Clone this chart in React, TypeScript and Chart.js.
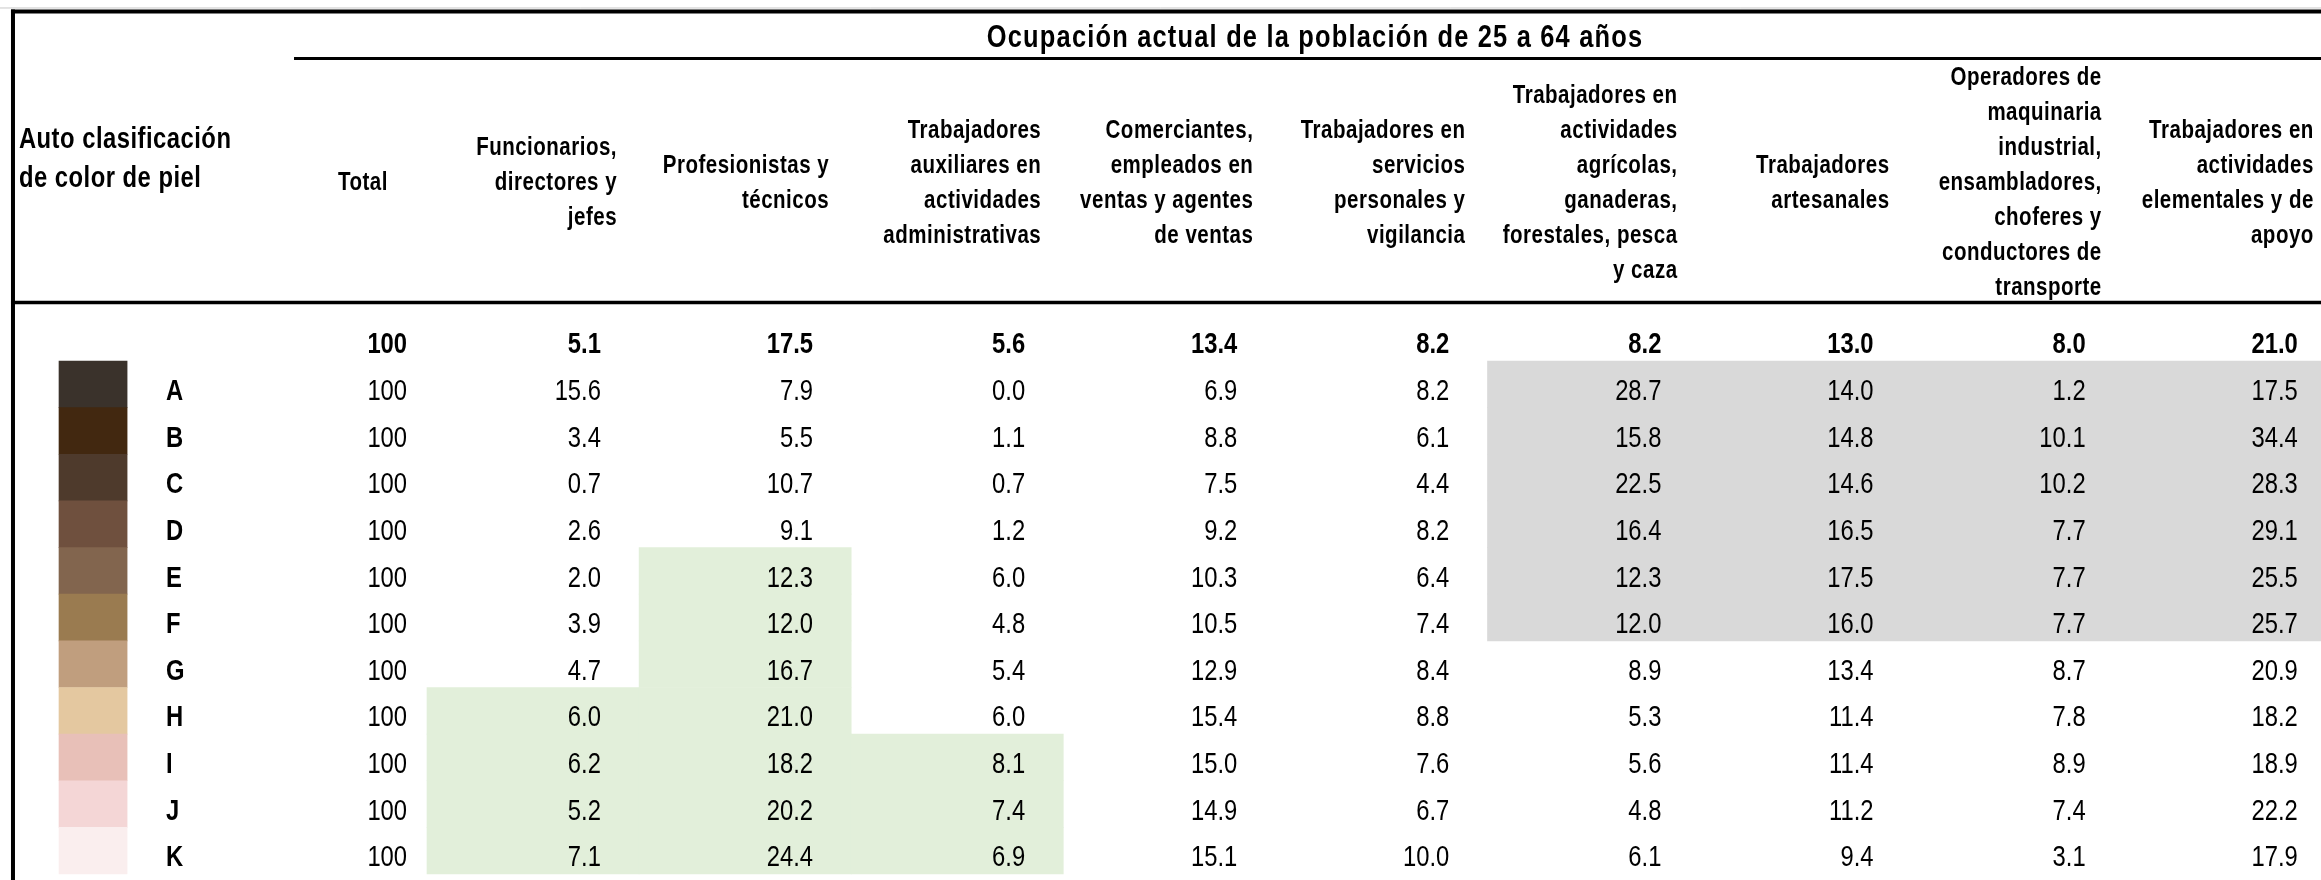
import React, { useEffect, useRef } from "react";
import { Chart, registerables } from "chart.js";
Chart.register(...registerables);

// ---------------- data ----------------
const tableTitle = "Ocupación actual de la población de 25 a 64 años";
const rowHeaderLines = ["Auto clasificación", "de color de piel"];
const totalHeader = "Total";
const categories = ["A", "B", "C", "D", "E", "F", "G", "H", "I", "J", "K"];
const skinColors = [
  "#3a322b", "#422810", "#4e3a2c", "#6f503e", "#82654e", "#9a7b50",
  "#c09e7e", "#e4c8a0", "#e8c0b8", "#f4d6d6", "#faeeee",
];
const occupationHeaders = [
  ["Funcionarios,", "directores y", "jefes"],
  ["Profesionistas y", "técnicos"],
  ["Trabajadores", "auxiliares en", "actividades", "administrativas"],
  ["Comerciantes,", "empleados en", "ventas y agentes", "de ventas"],
  ["Trabajadores en", "servicios", "personales y", "vigilancia"],
  ["Trabajadores en", "actividades", "agrícolas,", "ganaderas,", "forestales, pesca", "y caza"],
  ["Trabajadores", "artesanales"],
  ["Operadores de", "maquinaria", "industrial,", "ensambladores,", "choferes y", "conductores de", "transporte"],
  ["Trabajadores en", "actividades", "elementales y de", "apoyo"],
];
const overallTotal = 100;
const overallRow = [5.1, 17.5, 5.6, 13.4, 8.2, 8.2, 13.0, 8.0, 21.0];
const totalColumn = [100, 100, 100, 100, 100, 100, 100, 100, 100, 100, 100];
const funcionarios = [15.6, 3.4, 0.7, 2.6, 2.0, 3.9, 4.7, 6.0, 6.2, 5.2, 7.1];
const profesionistas = [7.9, 5.5, 10.7, 9.1, 12.3, 12.0, 16.7, 21.0, 18.2, 20.2, 24.4];
const auxiliares = [0.0, 1.1, 0.7, 1.2, 6.0, 4.8, 5.4, 6.0, 8.1, 7.4, 6.9];
const comerciantes = [6.9, 8.8, 7.5, 9.2, 10.3, 10.5, 12.9, 15.4, 15.0, 14.9, 15.1];
const servicios = [8.2, 6.1, 4.4, 8.2, 6.4, 7.4, 8.4, 8.8, 7.6, 6.7, 10.0];
const agricolas = [28.7, 15.8, 22.5, 16.4, 12.3, 12.0, 8.9, 5.3, 5.6, 4.8, 6.1];
const artesanales = [14.0, 14.8, 14.6, 16.5, 17.5, 16.0, 13.4, 11.4, 11.4, 11.2, 9.4];
const operadores = [1.2, 10.1, 10.2, 7.7, 7.7, 7.7, 8.7, 7.8, 8.9, 7.4, 3.1];
const elementales = [17.5, 34.4, 28.3, 29.1, 25.5, 25.7, 20.9, 18.2, 18.9, 22.2, 17.9];
const occupationSeries = [
  funcionarios, profesionistas, auxiliares, comerciantes, servicios,
  agricolas, artesanales, operadores, elementales,
];
// highlighted blocks: column index, first row, last row
const greenColumns = [0, 1, 2];
const greenFromRow = ["H", "E", "I"];
const greenToRow = ["K", "K", "K"];
const grayColumns = [5, 6, 7, 8];
const grayFromRow = "A";
const grayToRow = "F";

// ---------------- layout / style ----------------
const W = 2321;
const H = 880;
const COL_ORIGIN_PX = 427;
const COL_W_PX = 212.1;
const ROW_ORIGIN_PX = 361;
const ROW_H_PX = 46.64;
const X_MIN = -COL_ORIGIN_PX / COL_W_PX;
const X_MAX = (W - COL_ORIGIN_PX) / COL_W_PX;
const Y_MIN = -ROW_ORIGIN_PX / ROW_H_PX;
const Y_MAX = (H - ROW_ORIGIN_PX) / ROW_H_PX;

// x positions in column units
const LEFT_BORDER_X = -1.952;
const SWATCH_X0 = -1.735;
const SWATCH_X1 = -1.414;
const LETTER_X = -1.2305;
const TOTAL_RIGHT_X = -0.094;
const TOTAL_HEADER_X = -0.302;
const ROW_HEADER_X = -1.924;
const SUBHEADER_LINE_X = -0.627;
const TITLE_X = 4.187;
const DATA_INSET = 0.18;
const HEADER_INSET = 0.104;
// y positions in row units
const HAIRLINE_Y = -7.569;
const TOP_BORDER_Y = -7.494;
const SUBHEADER_LINE_Y = -6.486;
const HEADER_BOTTOM_Y = -1.254;
const TITLE_BASE_Y = -6.732;
const HEADER_MID_Y = -3.859;
const HEADER_BASE_OFF = 0.193;
const HEADER_PITCH = 0.7504;
const ROW_HEADER_BASE_Y = [-4.567, -3.731];
const DATA_BASE_OFF = 0.836;

const SANS = '"Liberation Sans", Arial, sans-serif';
const NARROW_SCALE = 0.82;
const TITLE_FONT = `bold 31px ${SANS}`;
const HEAD_FONT = `bold 25px ${SANS}`;
const ROWHEAD_FONT = `bold 29px ${SANS}`;
const DATA_FONT = `29px ${SANS}`;
const DATA_BOLD_FONT = `bold 29px ${SANS}`;
const GREEN = "#e2efda";
const GRAY = "#d9d9d9";

const rowIndex = (c: string) => categories.indexOf(c);

const swatchData = categories.map((_, i) => ({ y: i + 0.5, x: [SWATCH_X0, SWATCH_X1] }));
const greenData: { y: number; x: number[] }[] = [];
greenColumns.forEach((col, k) => {
  for (let r = rowIndex(greenFromRow[k]); r <= rowIndex(greenToRow[k]); r++) {
    greenData.push({ y: r + 0.5, x: [col, col + 1] });
  }
});
const grayData: { y: number; x: number[] }[] = [];
for (let r = rowIndex(grayFromRow); r <= rowIndex(grayToRow); r++) {
  grayData.push({ y: r + 0.5, x: [grayColumns[0], grayColumns[grayColumns.length - 1] + 1] });
}

function narrowText(
  ctx: CanvasRenderingContext2D,
  text: string,
  x: number,
  y: number,
  font: string,
  align: CanvasTextAlign,
  spacing: number
) {
  ctx.save();
  ctx.font = font;
  ctx.textAlign = align;
  ctx.textBaseline = "alphabetic";
  (ctx as any).letterSpacing = `${spacing / NARROW_SCALE}px`;
  ctx.translate(x, y);
  ctx.scale(NARROW_SCALE, 1);
  ctx.fillText(text, 0, 0);
  ctx.restore();
}

const tablePlugin = {
  id: "tableText",
  beforeDraw(chart: any) {
    const { ctx, width, height } = chart;
    ctx.save();
    ctx.fillStyle = "#ffffff";
    ctx.fillRect(0, 0, width, height);
    ctx.restore();
  },
  afterDatasetsDraw(chart: any) {
    const ctx: CanvasRenderingContext2D = chart.ctx;
    const xs = chart.scales.x;
    const ys = chart.scales.y;
    const X = (v: number) => xs.getPixelForValue(v);
    const Y = (v: number) => ys.getPixelForValue(v);
    const right = X(X_MAX);
    const bottom = Y(Y_MAX);
    ctx.save();

    const hline = (x0: number, x1: number, y: number, lw: number, color: string) => {
      ctx.beginPath();
      ctx.strokeStyle = color;
      ctx.lineWidth = lw;
      ctx.moveTo(x0, y);
      ctx.lineTo(x1, y);
      ctx.stroke();
    };
    // borders
    hline(0, right, Y(HAIRLINE_Y), 1, "#c8c8c8");
    hline(X(LEFT_BORDER_X) - 2, right, Y(TOP_BORDER_Y), 4, "#000");
    hline(X(SUBHEADER_LINE_X), right, Y(SUBHEADER_LINE_Y), 3, "#000");
    hline(X(LEFT_BORDER_X) - 2, right, Y(HEADER_BOTTOM_Y), 3.5, "#000");
    ctx.beginPath();
    ctx.strokeStyle = "#000";
    ctx.lineWidth = 4;
    ctx.moveTo(X(LEFT_BORDER_X), Y(TOP_BORDER_Y) - 2);
    ctx.lineTo(X(LEFT_BORDER_X), bottom);
    ctx.stroke();

    ctx.fillStyle = "#000";

    // title
    narrowText(ctx, tableTitle, X(TITLE_X), Y(TITLE_BASE_Y), TITLE_FONT, "center", 1.2);

    // row header
    rowHeaderLines.forEach((t, k) =>
      narrowText(ctx, t, X(ROW_HEADER_X), Y(ROW_HEADER_BASE_Y[k]), ROWHEAD_FONT, "left", 0.5)
    );

    // column headers
    narrowText(ctx, totalHeader, X(TOTAL_HEADER_X), Y(HEADER_MID_Y + HEADER_BASE_OFF), HEAD_FONT, "center", 0.5);
    occupationHeaders.forEach((lines, j) => {
      const n = lines.length;
      lines.forEach((t, k) => {
        const yv = HEADER_MID_Y + (k - (n - 1) / 2) * HEADER_PITCH + HEADER_BASE_OFF;
        narrowText(ctx, t, X(j + 1 - HEADER_INSET), Y(yv), HEAD_FONT, "right", 0.5);
      });
    });

    // overall row (bold)
    const yTot = Y(-1 + DATA_BASE_OFF);
    narrowText(ctx, String(overallTotal), X(TOTAL_RIGHT_X), yTot, DATA_BOLD_FONT, "right", 0);
    overallRow.forEach((v, j) =>
      narrowText(ctx, v.toFixed(1), X(j + 1 - DATA_INSET), yTot, DATA_BOLD_FONT, "right", 0)
    );

    // category rows
    categories.forEach((c, i) => {
      const yb = Y(i + DATA_BASE_OFF);
      narrowText(ctx, c, X(LETTER_X), yb, DATA_BOLD_FONT, "left", 0);
      narrowText(ctx, String(totalColumn[i]), X(TOTAL_RIGHT_X), yb, DATA_FONT, "right", 0);
      occupationSeries.forEach((series, j) => {
        narrowText(ctx, series[i].toFixed(1), X(j + 1 - DATA_INSET), yb, DATA_FONT, "right", 0);
      });
    });
    ctx.restore();
  },
};

export default function App() {
  const ref = useRef<HTMLCanvasElement | null>(null);
  useEffect(() => {
    if (!ref.current) return;
    const common = {
      grouped: false,
      barPercentage: 1,
      categoryPercentage: 1,
      borderWidth: 0,
    };
    const chart = new Chart(ref.current, {
      type: "bar",
      data: {
        datasets: [
          { label: "Color de piel", data: swatchData as any, backgroundColor: skinColors, ...common },
          { label: "Resaltado verde", data: greenData as any, backgroundColor: GREEN, ...common },
          { label: "Resaltado gris", data: grayData as any, backgroundColor: GRAY, ...common },
        ],
      },
      options: {
        indexAxis: "y",
        animation: false,
        responsive: false,
        maintainAspectRatio: false,
        devicePixelRatio: 1,
        events: [],
        layout: { padding: 0 },
        plugins: { legend: { display: false }, tooltip: { enabled: false }, title: { display: false } },
        scales: {
          x: { type: "linear", min: X_MIN, max: X_MAX, display: false, offset: false },
          y: {
            type: "linear",
            reverse: true,
            min: Y_MIN,
            max: Y_MAX,
            display: false,
            offset: false,
            ticks: { stepSize: 1, includeBounds: false },
          },
        },
      } as any,
      plugins: [tablePlugin],
    });
    return () => chart.destroy();
  }, []);
  return (
    <div style={{ position: "absolute", left: 0, top: 0, width: W, height: H, background: "#fff" }}>
      <canvas ref={ref} width={W} height={H} style={{ display: "block", width: W, height: H }} />
    </div>
  );
}
